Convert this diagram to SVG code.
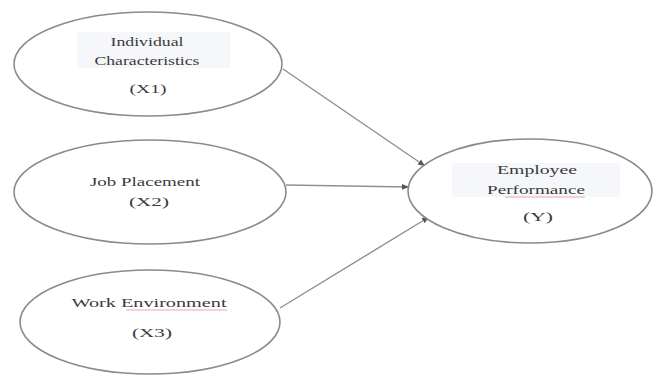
<svg xmlns="http://www.w3.org/2000/svg" width="656" height="376" viewBox="0 0 656 376">
<defs>
<marker id="ah" markerWidth="8" markerHeight="8" refX="7" refY="4" orient="auto" markerUnits="userSpaceOnUse">
<path d="M0,1 L7,4 L0,7 Z" fill="#555"/>
</marker>
</defs>
<style>
.node ellipse{fill:#fff;stroke:#8a8a8a;stroke-width:1.6}
.hl{fill:#f5f7fa}
text{font-family:"Liberation Serif","Times New Roman",serif;font-size:13px;fill:#3a3a3a;text-anchor:middle}
.edge{stroke:#8f8f8f;stroke-width:1.4;fill:none;marker-end:url(#ah)}
.sq{stroke:#e8a8a8;stroke-width:1;fill:none}
</style>
<rect width="656" height="376" fill="#fff"/>
<g id="connectors">
<line class="edge" x1="283" y1="69" x2="425" y2="166"/>
<line class="edge" x1="286" y1="185" x2="409" y2="187"/>
<line class="edge" x1="280" y1="308" x2="429" y2="217"/>
</g>
<g id="x1" class="node">
<ellipse cx="148" cy="64" rx="134" ry="52"/>
<rect class="hl" x="77" y="32" width="153" height="36"/>
<text x="147" y="46" textLength="73" lengthAdjust="spacingAndGlyphs">Individual</text>
<text x="147" y="65" textLength="105" lengthAdjust="spacingAndGlyphs">Characteristics</text>
<text x="148" y="93" textLength="37" lengthAdjust="spacingAndGlyphs">(X1)</text>
</g>
<g id="x2" class="node">
<ellipse cx="150" cy="192" rx="136" ry="52"/>
<text x="145" y="186" textLength="110" lengthAdjust="spacingAndGlyphs">Job Placement</text>
<text x="149" y="206" textLength="40" lengthAdjust="spacingAndGlyphs">(X2)</text>
</g>
<g id="x3" class="node">
<ellipse cx="150" cy="322" rx="130" ry="52"/>
<text x="149" y="307" textLength="155" lengthAdjust="spacingAndGlyphs">Work Environment</text>
<path class="sq" d="M126,310 L227,310"/>
<text x="152" y="337" textLength="40" lengthAdjust="spacingAndGlyphs">(X3)</text>
</g>
<g id="y" class="node">
<ellipse cx="530" cy="191" rx="122" ry="52"/>
<rect class="hl" x="452" y="163" width="168" height="34"/>
<text x="537" y="174" textLength="80" lengthAdjust="spacingAndGlyphs">Employee</text>
<text x="536" y="194" textLength="98" lengthAdjust="spacingAndGlyphs">Performance</text>
<path class="sq" d="M505,197 L585,197"/>
<text x="538" y="221" textLength="30" lengthAdjust="spacingAndGlyphs">(Y)</text>
</g>
</svg>
